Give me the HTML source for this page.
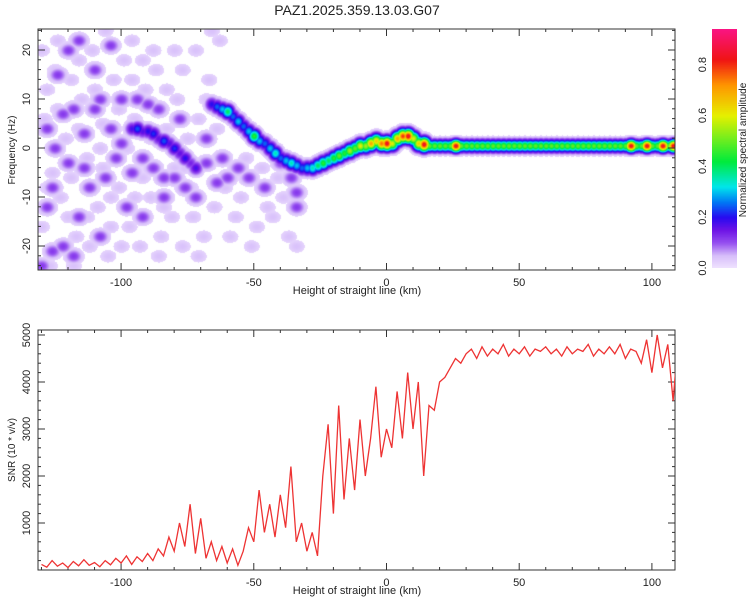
<!DOCTYPE html>
<html><head><meta charset="utf-8"><style>
body{margin:0;background:#fff;width:750px;height:600px;overflow:hidden;font-family:"Liberation Sans",sans-serif}
#wrap{position:relative;width:750px;height:600px}
canvas{position:absolute}
svg{position:absolute;left:0;top:0}
</style></head><body>
<div id="wrap">
<canvas id="spec" width="637" height="241" style="left:38px;top:29px"></canvas>
<canvas id="cbar" width="25" height="239" style="left:712px;top:29px"></canvas>
<svg id="svg" width="750" height="600"></svg>
</div>
<script>
// ---- Data ----
const snrStart = -130, snrStep = 2;
const snrValues = [120,60,200,80,150,50,180,90,220,100,160,70,200,110,250,
150,300,120,280,180,350,200,450,
300,700,400,1000,500,1400,350,1100,
250,600,200,500,150,450,100,
400,900,600,1700,800,1400,700,1600,
900,2200,600,1000,400,800,
300,2000,3100,1200,3500,1500,
2800,1700,3200,2000,2800,3900,2400,
3000,2600,3800,2800,4200,3000,4000,2000,
3500,3400,4000,4100,4300,4500,4400,4600,
4700,4500,4750,4550,4700,4600,4800,4550,4700,4600,4750,4550,4700,4650,4750,4600,
4700,4550,4750,4600,4700,4650,4800,4550,4700,4600,4750,4600,4800,4500,4700,4650,
4400,4900,4200,5000,4300,4800,3600,5000,4500];
const ridgeH = [-66,-64,-62,-60,-58,-56,-54,-52,-50,-48,-46,-44,-42,-40,-38,-36,-34,-32,-30,
-28,-26,-24,-22,-20,-18,-16,-14,-12,-10,-8,-6,-4,-2,0,2,4,6,8,10,12,14];
const ridgeF = [9,8.5,8,7.5,6.5,5.5,4.5,3.5,2.5,1.5,1,0,-1,-2,-2.5,-3,-3.5,-4,-4,
-4,-3.5,-3,-2.5,-2,-1.5,-1,-0.5,0,0.5,0.5,1,1.5,1,1,1,2,2.5,2.5,2,1,0.8];
const ridgeA = [0.2,0.25,0.3,0.4,0.25,0.3,0.25,0.3,0.45,0.3,0.25,0.3,0.35,0.25,0.3,0.35,0.3,0.25,0.3,
0.35,0.4,0.45,0.4,0.45,0.5,0.45,0.55,0.5,0.6,0.55,0.7,0.65,0.75,0.85,0.6,0.7,0.8,0.85,0.6,0.65,0.85];
const lineF = 0.5;
const lineHot = [26,92,98,104,108];
const ridge2H = [-96,-94,-92,-90,-88,-86,-84,-82,-80,-78,-76,-74,-72];
const ridge2F = [4,4,3.5,3.5,3,2,1.5,1,0,-1,-2,-3,-4];
const ridge2A = [0.18,0.24,0.17,0.2,0.22,0.16,0.24,0.17,0.22,0.16,0.2,0.14,0.18];
const blobH = [-128,-125,-122,-118,-120,-114,-110,-108,-104,-102,-100,-106,-112,-116,-122,-126,-118,-128,-108,-96,-92,-88,-84,-80,-76,-72,-68,-64,-60,-56,-52,-46,-40,-36,-34,-34,-86,-90,-94,-100,-124,-110,-120,-116,-104,-68,-62,-130,-126,-114,-98,-92,-84,-78];
const blobF = [4,0,7,8,-3,3,8,10,4,-2,1,-6,-8,-14,-20,-21,-22,-12,-18,-5,-2,-4,-6,-6,-8,-10,-3,-7,-6,-4,-6,-8,-3,-6,-9,-12,8,9,10,10,15,16,20,22,21,2,-2,-24,-8,-4,-12,-14,-10,6];
const lightH = [-130,-128,-126,-124,-130,-127,-123,-121,-119,-117,-115,-113,-111,-109,-107,-105,-103,-101,-99,-97,-95,-93,-91,-89,-87,-85,-83,-81,-79,-77,-75,-73,-71,-69,-67,-65,-63,-61,-57,-53,-49,-45,-41,-37,-34,
-129,-125,-122,-119,-116,-113,-110,-107,-104,-101,-98,-95,-92,-89,-86,-83,-80,-77,-74,-71,-68,-64,-59,-55,-51,-47,-43,-39,
-128,-124,-120,-116,-112,-108,-104,-100,-96,-92,-88,-84,-80,-76,-72,-118,-106,-96,-66];
const lightF = [20,12,-5,22,-16,-24,-10,2,14,-18,10,-2,20,-12,5,-22,14,-8,18,-16,6,-20,12,-10,16,-18,4,-14,10,-20,2,-14,6,-18,14,-12,22,-8,-14,-2,-16,-12,-6,-18,-20,
6,16,-20,-6,4,-14,12,-4,-16,8,0,-10,18,2,-22,12,-4,16,-8,-22,10,4,-18,-10,-20,-4,-14,-10,
-8,8,-14,18,-20,0,-10,-20,14,-6,20,-12,20,-4,20,-24,24,22,24];

// ---- scales ----
const X0=38,X1=675,hMin=-131.3,hMax=108.7;
const sx=h=>X0+(h-hMin)/(hMax-hMin)*(X1-X0);
const fy=f=>148-f*4.9;
const sy=v=>570-v*0.047;

function cmap(a){
  const stops=[[0,[240,228,255]],[0.05,[215,190,250]],[0.1,[150,80,240]],[0.15,[110,20,230]],[0.2,[40,10,240]],[0.26,[0,120,245]],[0.32,[0,230,235]],[0.42,[0,235,60]],[0.6,[230,240,0]],[0.72,[255,150,0]],[0.82,[240,20,20]],[0.94,[250,20,130]]];
  if(a<=0)return stops[0][1];
  for(let i=1;i<stops.length;i++){if(a<=stops[i][0]){const[p,c0]=stops[i-1],[q,c1]=stops[i];const t=(a-p)/(q-p);return c0.map((c,k)=>c+(c1[k]-c)*t);}}
  return stops[stops.length-1][1];
}

// spectrogram
(function(){
  const blobs=[];
  lightH.forEach((h,i)=>blobs.push([h,lightF[i],0.045,2.4,1.0]));
  blobH.forEach((h,i)=>blobs.push([h,blobF[i],0.12,2.2,1.0]));
  ridge2H.forEach((h,i)=>blobs.push([h,ridge2F[i],ridge2A[i],1.8,1.0]));
  ridgeH.forEach((h,i)=>blobs.push([h,ridgeF[i],ridgeA[i],1.7,1.0]));
  for(let h=16;h<=110;h+=2){blobs.push([h,lineF,lineHot.some(z=>Math.abs(z-h)<1.5)?0.85:0.5,1.7,0.85]);}
  const c=document.getElementById('spec'),ctx=c.getContext('2d');
  const W=c.width,H=c.height,img=ctx.createImageData(W,H);
  for(let py=0;py<H;py++){const f=(148-29-py)/4.9;
    for(let px=0;px<W;px++){const h=hMin+px/(W)*(hMax-hMin);let a=0;
      for(const b of blobs){const dx=(h-b[0])/b[3],dy=(f-b[1])/b[4];const d=dx*dx+dy*dy;if(d<16){const v=b[2]*Math.exp(-d/2);if(v>a)a=v;}}
      const o=(py*W+px)*4;
      if(a<0.02){img.data[o]=255;img.data[o+1]=255;img.data[o+2]=255;}
      else{const col=cmap(a);img.data[o]=col[0];img.data[o+1]=col[1];img.data[o+2]=col[2];}
      img.data[o+3]=255;}}
  ctx.putImageData(img,0,0);
  const cb=document.getElementById('cbar'),cc=cb.getContext('2d');
  for(let y=0;y<cb.height;y++){const a=0.94*(1-y/cb.height);const col=cmap(a);cc.fillStyle=`rgb(${col.map(Math.round).join(',')})`;cc.fillRect(0,y,25,1);}
})();

// axes
const svg=document.getElementById('svg');const NS='http://www.w3.org/2000/svg';
function el(t,at,txt){const e=document.createElementNS(NS,t);for(const k in at)e.setAttribute(k,at[k]);if(txt!==undefined)e.textContent=txt;svg.appendChild(e);return e;}
function frame(top,bot,name){
  const r=el('rect',{x:X0,y:top,width:X1-X0,height:bot-top,fill:'none',stroke:'#333','stroke-width':1});
  
  
  for(let h=-130;h<=108;h+=10){const x=sx(h),L=(h%50===0)?7:3;
    el('line',{x1:x,x2:x,y1:bot,y2:bot-L,stroke:'#333'});el('line',{x1:x,x2:x,y1:top,y2:top+L,stroke:'#333'});
    if(h%50===0){const t=el('text',{x:x,y:bot+16,'text-anchor':'middle','font-size':11,fill:'#222'},String(h));
      
      }}
  const xt=el('text',{x:357,y:bot+24,'text-anchor':'middle','font-size':11,fill:'#222'},'Height of straight line (km)');
  
  
}
frame(29,270,'spectrogram-frame');frame(330,570,'snr-frame');
for(let f=-24;f<=24;f+=2){const y=fy(f),L=(f%10===0)?7:3;el('line',{x1:X0,x2:X0+L,y1:y,y2:y,stroke:'#333'});el('line',{x1:X1,x2:X1-L,y1:y,y2:y,stroke:'#333'});
  if(f%10===0){const t=el('text',{x:0,y:0,transform:`translate(30,${y}) rotate(-90)`,'text-anchor':'middle','font-size':11,fill:'#222'},String(f));
  
  }}
const yt1=el('text',{x:0,y:0,transform:'translate(15,150) rotate(-90)','text-anchor':'middle','font-size':10,fill:'#222'},'Frequency (Hz)');


for(let v=200;v<=5000;v+=200){const y=sy(v),L=(v%1000===0)?7:3;el('line',{x1:X0,x2:X0+L,y1:y,y2:y,stroke:'#333'});el('line',{x1:X1,x2:X1-L,y1:y,y2:y,stroke:'#333'});
  if(v%1000===0){const t=el('text',{x:0,y:0,transform:`translate(30,${y}) rotate(-90)`,'text-anchor':'middle','font-size':11,fill:'#222'},String(v));
  
  }}
const yt2=el('text',{x:0,y:0,transform:'translate(15,450) rotate(-90)','text-anchor':'middle','font-size':10,fill:'#222'},'SNR (10 * v/v)');


const cp=el('clipPath',{id:'cp'});
const cr=document.createElementNS(NS,'rect');
cr.setAttribute('x',X0);cr.setAttribute('y',330);cr.setAttribute('width',X1-X0);cr.setAttribute('height',240);
cp.appendChild(cr);
const pts=snrValues.map((v,i)=>sx(snrStart+i*snrStep).toFixed(1)+','+sy(v).toFixed(1)).join(' ');
const pl=el('polyline',{points:pts,fill:'none',stroke:'#ee3333','stroke-width':1.3,'clip-path':'url(#cp)'});


for(let a=0;a<=0.8001;a+=0.2){const y=268-a/0.94*239;const t=el('text',{x:0,y:0,transform:`translate(706,${y}) rotate(-90)`,'text-anchor':'middle','font-size':11,fill:'#222'},a.toFixed(1));
  
  }
const ct=el('text',{x:0,y:0,transform:'translate(746,150) rotate(-90)','text-anchor':'middle','font-size':10,fill:'#222'},'Normalized spectral amplitude');


const tt=el('text',{x:357,y:15,'text-anchor':'middle','font-size':14,fill:'#222'},'PAZ1.2025.359.13.03.G07');


</script>
</body></html>
